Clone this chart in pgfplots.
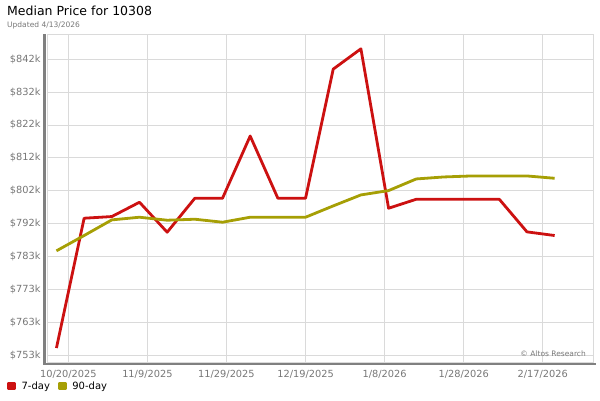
\documentclass[border=0pt]{standalone}
\usepackage{fontspec}
\setmainfont{DejaVu Sans}
\usepackage{pgfplots}
\pgfplotsset{compat=1.18}
\definecolor{sevenday}{RGB}{204,17,17}
\definecolor{ninetyday}{RGB}{166,159,5}
\definecolor{ticktext}{RGB}{119,119,119}
\definecolor{gridc}{RGB}{218,218,218}
\definecolor{axisc}{RGB}{128,128,128}

% x = days since 10/20/2025, y = price in $k
\pgfplotstableread{
d    p
-3   755.1
4    794.1
11   794.6
18   798.9
25   789.9
32   800.1
39   800.1
46   818.8
53   800.1
60   800.1
67   838.9
74   845.0
81   797.1
88   799.8
95   799.8
102  799.8
109  799.8
116  790.0
123  788.9
}\sevenday
\pgfplotstableread{
d    p
-3   784.3
4    788.9
11   793.6
18   794.4
25   793.5
32   793.8
39   792.9
46   794.4
53   794.4
60   794.4
67   797.8
74   801.1
81   802.4
88   805.9
95   806.5
102  806.8
109  806.8
116  806.8
123  806.1
}\ninetyday

\begin{document}
\begin{tikzpicture}
\path (0pt,0pt) rectangle (600pt,400pt);
\node[anchor=base west, inner sep=0, font=\fontsize{12.5}{14}\selectfont] at (7pt,384pt) {Median Price for 10308};
\node[anchor=base west, inner sep=0, text=ticktext, font=\fontsize{7.5}{9}\selectfont] at (7pt,372.5pt) {Updated 4/13/2026};
\begin{axis}[
    at={(47pt,37.5pt)}, anchor=south west,
    scale only axis, width=546pt, height=328pt,
    xmin=-5.39, xmax=132.7, ymin=750.75, ymax=849.3,
    xtick={0,20,40,60,80,100,120},
    xticklabels={10/20/2025,11/9/2025,11/29/2025,12/19/2025,1/8/2026,1/28/2026,2/17/2026},
    ytick={753,762.875,772.75,782.625,792.5,802.375,812.25,822.125,832,841.875},
    yticklabels={\$753k,\$763k,\$773k,\$783k,\$792k,\$802k,\$812k,\$822k,\$832k,\$842k},
    grid=major, major grid style={draw=gridc, line width=0.8pt},
    axis line style={draw=gridc, line width=0.8pt},
    major tick length=0pt,
    tick label style={font=\fontsize{9.8}{11}\selectfont, text=ticktext},
    yticklabel style={xshift=-3pt},
    xticklabel style={yshift=-4pt},
    clip=false,
    legend style={at={(-0.0733,-0.0715)}, anchor=west, draw=none, fill=none,
        legend columns=2, font=\fontsize{10}{11}\selectfont,
        nodes={inner sep=0pt},
        /tikz/every even column/.append style={column sep=8pt},
        legend cell align=left, inner sep=0pt},
    legend image code/.code={\fill[#1] (0pt,-3pt) rectangle (6pt,3pt);
        \path[draw=none, fill=none] (0pt,0pt) -- (13pt,0pt);},
    after end axis/.code={
        \draw[axisc, line width=2.8pt]
            ([xshift=-2.5pt,yshift=0.5pt]rel axis cs:0,1)
            -- ([xshift=-2.5pt,yshift=-1.5pt]rel axis cs:0,0)
            -- ([xshift=3pt,yshift=-1.5pt]rel axis cs:1,0);
        \node[anchor=base east, inner sep=0, text=ticktext,
              font=\fontsize{7.5}{9}\selectfont]
            at ([xshift=-7pt,yshift=6pt]rel axis cs:1,0) {© Altos Research};
    },
]
\addplot[sevenday, line width=2.8pt, line join=round] table[x=d, y=p] {\sevenday};
\addplot[ninetyday, line width=2.8pt, line join=round] table[x=d, y=p] {\ninetyday};
\legend{7-day, 90-day}
\end{axis}
\end{tikzpicture}
\end{document}
